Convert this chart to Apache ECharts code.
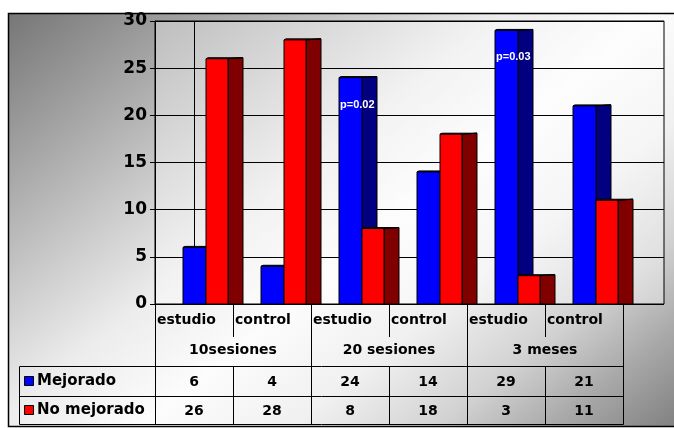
<!DOCTYPE html>
<html>
<head>
<meta charset="utf-8">
<script src="https://cdn.jsdelivr.net/npm/echarts@6/dist/echarts.min.js"></script>
<style>
  html, body { margin: 0; padding: 0; background: #fff; }
  #main { width: 674px; height: 428px; }
</style>
</head>
<body>
<div id="main"></div>
<script>
// datos
const categories = ['estudio', 'control', 'estudio', 'control', 'estudio', 'control'];
const groups = ['10sesiones', '20 sesiones', '3 meses'];
const seriesNames = ['Mejorado', 'No mejorado'];
const mejorado = [6, 4, 24, 14, 29, 21];
const noMejorado = [26, 28, 8, 18, 3, 11];
const pLabels = ['', '', 'p=0.02', '', 'p=0.03', ''];

const FONT = '"DejaVu Sans"';
const BLUE = '#0000ff', BLUE_SIDE = '#000080';
const RED = '#ff0000', RED_SIDE = '#800000';

const chart = echarts.init(document.getElementById('main'));

// barra 3D: cara frontal + lateral oscura
function bar3d(fl, fw, top, base, front, side, depth) {
  const fr = fl + fw;
  return [
    { type: 'polygon', shape: { points: [[fr, top], [fr + depth, top - 1], [fr + depth, base], [fr, base]] },
      style: { fill: side, stroke: '#000', lineWidth: 1 } },
    { type: 'polygon', shape: { points: [[fl, top], [fl + 2, top - 1], [fr + depth, top - 1], [fr, top]] },
      style: { fill: side, stroke: '#000', lineWidth: 1 } },
    { type: 'rect', shape: { x: fl, y: top, width: fw, height: base - top },
      style: { fill: front, stroke: '#000', lineWidth: 1 } }
  ];
}

function renderItem(params, api) {
  const i = api.value(0);
  const c = api.coord([i, 0]);
  const w = api.size([1, 0])[0];
  const left = c[0] - w / 2;
  const base = c[1];
  const yB = api.coord([i, api.value(1)])[1];
  const yR = api.coord([i, api.value(2)])[1];
  const bl = left + w * 28 / 78, bw = w * 23 / 78;
  const rl = bl + bw, rw = w * 22 / 78;
  const depth = w * 15 / 78;
  const children = [].concat(
    bar3d(bl, bw, yB, base, BLUE, BLUE_SIDE, depth),
    bar3d(rl, rw, yR, base, RED, RED_SIDE, depth)
  );
  if (pLabels[i]) {
    children.push({ type: 'text', style: { text: pLabels[i], x: bl + 1, y: yB + 27,
      fill: '#fff', font: 'bold 11px "Liberation Sans"', align: 'left', verticalAlign: 'middle' } });
  }
  return { type: 'group', children: children };
}

const option = {
  backgroundColor: '#fff',
  animation: false,
  grid: [
    { left: 155, top: 21, width: 509, height: 283, show: true,
      backgroundColor: 'rgba(255,255,255,0.35)', borderColor: '#000', borderWidth: 1 },
    { left: 155, top: 21, width: 468, height: 283 }
  ],
  xAxis: [
    { gridIndex: 0, type: 'value', min: 0, max: 1, show: false },
    { gridIndex: 1, type: 'category', data: categories, show: false }
  ],
  yAxis: [
    { gridIndex: 0, type: 'value', min: 0, max: 30, interval: 5,
      axisLine: { show: true, lineStyle: { color: '#000', width: 1 } },
      axisTick: { show: true, length: 5, lineStyle: { color: '#000' } },
      splitLine: { show: true, lineStyle: { color: '#000', width: 1 } },
      axisLabel: { color: '#000', fontFamily: FONT, fontWeight: 'bold', fontSize: 17, margin: 8 } },
    { gridIndex: 1, type: 'value', min: 0, max: 30, interval: 5, show: false }
  ],
  series: [{
    type: 'custom',
    xAxisIndex: 1,
    yAxisIndex: 1,
    z: 3,
    renderItem: renderItem,
    data: categories.map((c, i) => [i, mejorado[i], noMejorado[i]])
  }]
};
chart.setOption(option);

// fondo, pared y tabla de datos
const p0 = chart.convertToPixel({ gridIndex: 1 }, [0, 0]);
const p1 = chart.convertToPixel({ gridIndex: 1 }, [1, 0]);
const catW = p1[0] - p0[0];
const x0 = p0[0] - catW / 2;
const floorY = p0[1];
const colX = k => Math.round(x0 + k * catW) + 0.5;

const yRow1 = floorY + 16, yRow2 = floorY + 46;
const tTop = floorY + 62.5, tMid = floorY + 92.5, tBot = floorY + 120.5;
const tLeft = 19.5;

const bold14 = 'bold 14px ' + FONT;
const g = [];

g.push({
  type: 'rect', z: -10, silent: true,
  shape: { x: 8.5, y: 13.5, width: 700, height: 413 },
  style: {
    fill: new echarts.graphic.LinearGradient(8, 13, 469, 589, [
      { offset: 0, color: '#767676' },
      { offset: 0.15, color: '#a0a0a0' },
      { offset: 0.3, color: '#cbcbcb' },
      { offset: 0.42, color: '#ececec' },
      { offset: 0.55, color: '#fcfcfc' },
      { offset: 0.68, color: '#f0f0f0' },
      { offset: 0.8, color: '#d2d2d2' },
      { offset: 0.9, color: '#a8a8a8' },
      { offset: 1, color: '#828282' }
    ], true),
    stroke: '#000', lineWidth: 1.5
  }
});

// esquina de la pared del fondo
g.push({ type: 'line', z: 1, silent: true,
  shape: { x1: 194.5, y1: 21, x2: 194.5, y2: floorY },
  style: { stroke: '#000', lineWidth: 1 } });

function line(x1, y1, x2, y2) {
  g.push({ type: 'line', z: 10, silent: true, shape: { x1, y1, x2, y2 },
    style: { stroke: '#000', lineWidth: 1 } });
}
function text(str, x, y, align, font, fill) {
  g.push({ type: 'text', z: 10, silent: true, x: x, y: y,
    style: { text: str, font: font || bold14, fill: fill || '#000', align: align || 'center', verticalAlign: 'middle' } });
}

for (let k = 0; k <= categories.length; k++) {
  if (k % 2 === 0) {
    line(colX(k), floorY, colX(k), tBot);
  } else {
    line(colX(k), floorY, colX(k), floorY + 33);
    line(colX(k), tTop, colX(k), tBot);
  }
}
line(tLeft, tTop, colX(6), tTop);
line(tLeft, tMid, colX(6), tMid);
line(tLeft, tBot, colX(6), tBot);
line(tLeft, tTop, tLeft, tBot);

categories.forEach((c, i) => {
  text(c, x0 + i * catW + 2, yRow1, 'left');
  text(String(mejorado[i]), x0 + (i + 0.5) * catW, tTop + 16);
  text(String(noMejorado[i]), x0 + (i + 0.5) * catW, tMid + 15);
});
groups.forEach((gname, j) => {
  text(gname, x0 + (j * 2 + 1) * catW, yRow2);
});

const swatch = [BLUE, RED];
[tTop, tMid].forEach((ry, r) => {
  const cy = ry + (r === 0 ? 15 : 14);
  g.push({ type: 'rect', z: 10, silent: true,
    shape: { x: 24.5, y: cy - 5, width: 9, height: 9 },
    style: { fill: swatch[r], stroke: '#000', lineWidth: 1 } });
  text(seriesNames[r], 37, cy, 'left', 'bold 15px ' + FONT);
});

chart.setOption({ graphic: g });
</script>
</body>
</html>
